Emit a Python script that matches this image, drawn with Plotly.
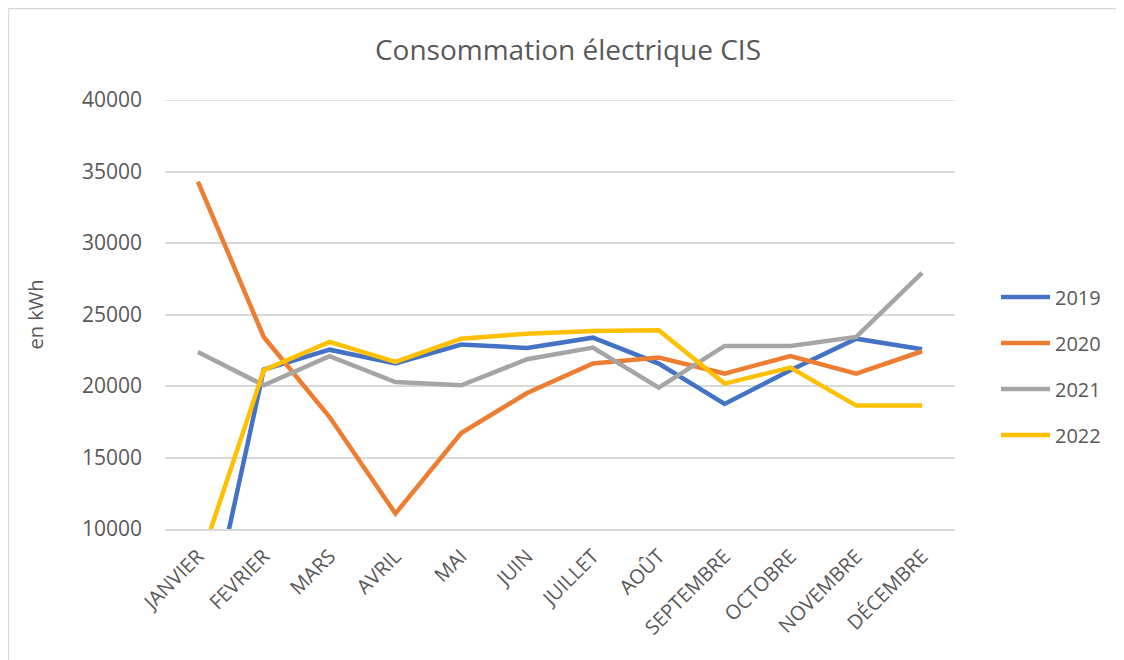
import plotly.graph_objects as go

months = ["JANVIER", "FEVRIER", "MARS", "AVRIL", "MAI", "JUIN", "JUILLET",
          "AOÛT", "SEPTEMBRE", "OCTOBRE", "NOVEMBRE", "DÉCEMBRE"]
v2019 = [0, 21150, 22540, 21570, 22900, 22660, 23380, 21570, 18740, 21100, 23310, 22570]
v2020 = [34300, 23430, 17830, 11080, 16710, 19510, 21570, 21990, 20870, 22100, 20870, 22430]
v2021 = [22380, 20050, 22080, 20280, 20050, 21870, 22690, 19890, 22800, 22800, 23430, 27910]
v2022 = [7300, 21100, 23080, 21680, 23310, 23660, 23850, 23900, 20170, 21290, 18630, 18630]
years = ["2019", "2020", "2021", "2022"]
colors = ["#4472C4", "#ED7D31", "#A5A5A5", "#FFC000"]
series = [v2019, v2020, v2021, v2022]
y_min, y_max = 10000, 40000

FONT = "Open Sans, Liberation Sans, sans-serif"
TXT = "#595959"
GRID = "#d9d9d9"

fig = go.Figure()
for name, vals, col in zip(years, series, colors):
    fig.add_trace(go.Scatter(
        x=months, y=vals, name=name, mode="lines", legendgroup=name,
        line=dict(color=col, width=4.5),
    ))

# page has an 8px body margin: figure coordinates = screen - 8
OFF = 8
W, H = 1124, 660
L, R, T, B = 165 - OFF, W - (955 - OFF), 100 - OFF, H - (529 - OFF)
pw, ph = W - L - R, H - T - B

def px(x):
    return (x - OFF - L) / pw

def py(y):
    return (H - B - (y - OFF)) / ph

fig.update_layout(
    width=W, height=H,
    margin=dict(l=L, r=R, t=T, b=B),
    paper_bgcolor="white", plot_bgcolor="white",
    font=dict(family=FONT, color=TXT, size=20),
    title=dict(text="Consommation électrique CIS", x=px(568), xref="paper",
               xanchor="center", y=1 - (50 - OFF) / H, yanchor="middle",
               font=dict(family=FONT, size=28, color=TXT)),
    showlegend=True,
    legend=dict(x=px(996), xanchor="left", y=py(366), yanchor="middle",
                font=dict(size=20, color=TXT), tracegroupgap=17,
                itemwidth=49, bgcolor="rgba(0,0,0,0)"),
    xaxis=dict(type="category", showgrid=False, showline=True,
               linecolor=GRID, linewidth=1.5, tickangle=-45,
               tickfont=dict(size=20, color=TXT), ticks="",
               ticklabelstandoff=6, range=[-0.5, 11.5]),
    yaxis=dict(range=[y_min, y_max], dtick=5000, tickformat="d",
               showgrid=True, gridcolor=GRID, gridwidth=1.5,
               zeroline=False, showline=False, ticks="",
               ticklabelstandoff=22,
               tickfont=dict(size=21, color=TXT),
               title=dict(text="en kWh", standoff=32,
                          font=dict(size=20, color=TXT))),
    shapes=[
        dict(type="line", xref="paper", yref="y",
             x0=0, x1=1, y0=y_max, y1=y_max,
             line=dict(color=GRID, width=1.5), layer="below"),
        dict(type="line", xref="paper", yref="paper",
             x0=px(8.5), x1=px(8.5), y0=py(8.5), y1=py(H + 20),
             line=dict(color=GRID, width=1.5)),
        dict(type="line", xref="paper", yref="paper",
             x0=px(8.5), x1=px(W + 20), y0=py(8.5), y1=py(8.5),
             line=dict(color=GRID, width=1.5)),
    ],
)

fig.write_html("out.html")
